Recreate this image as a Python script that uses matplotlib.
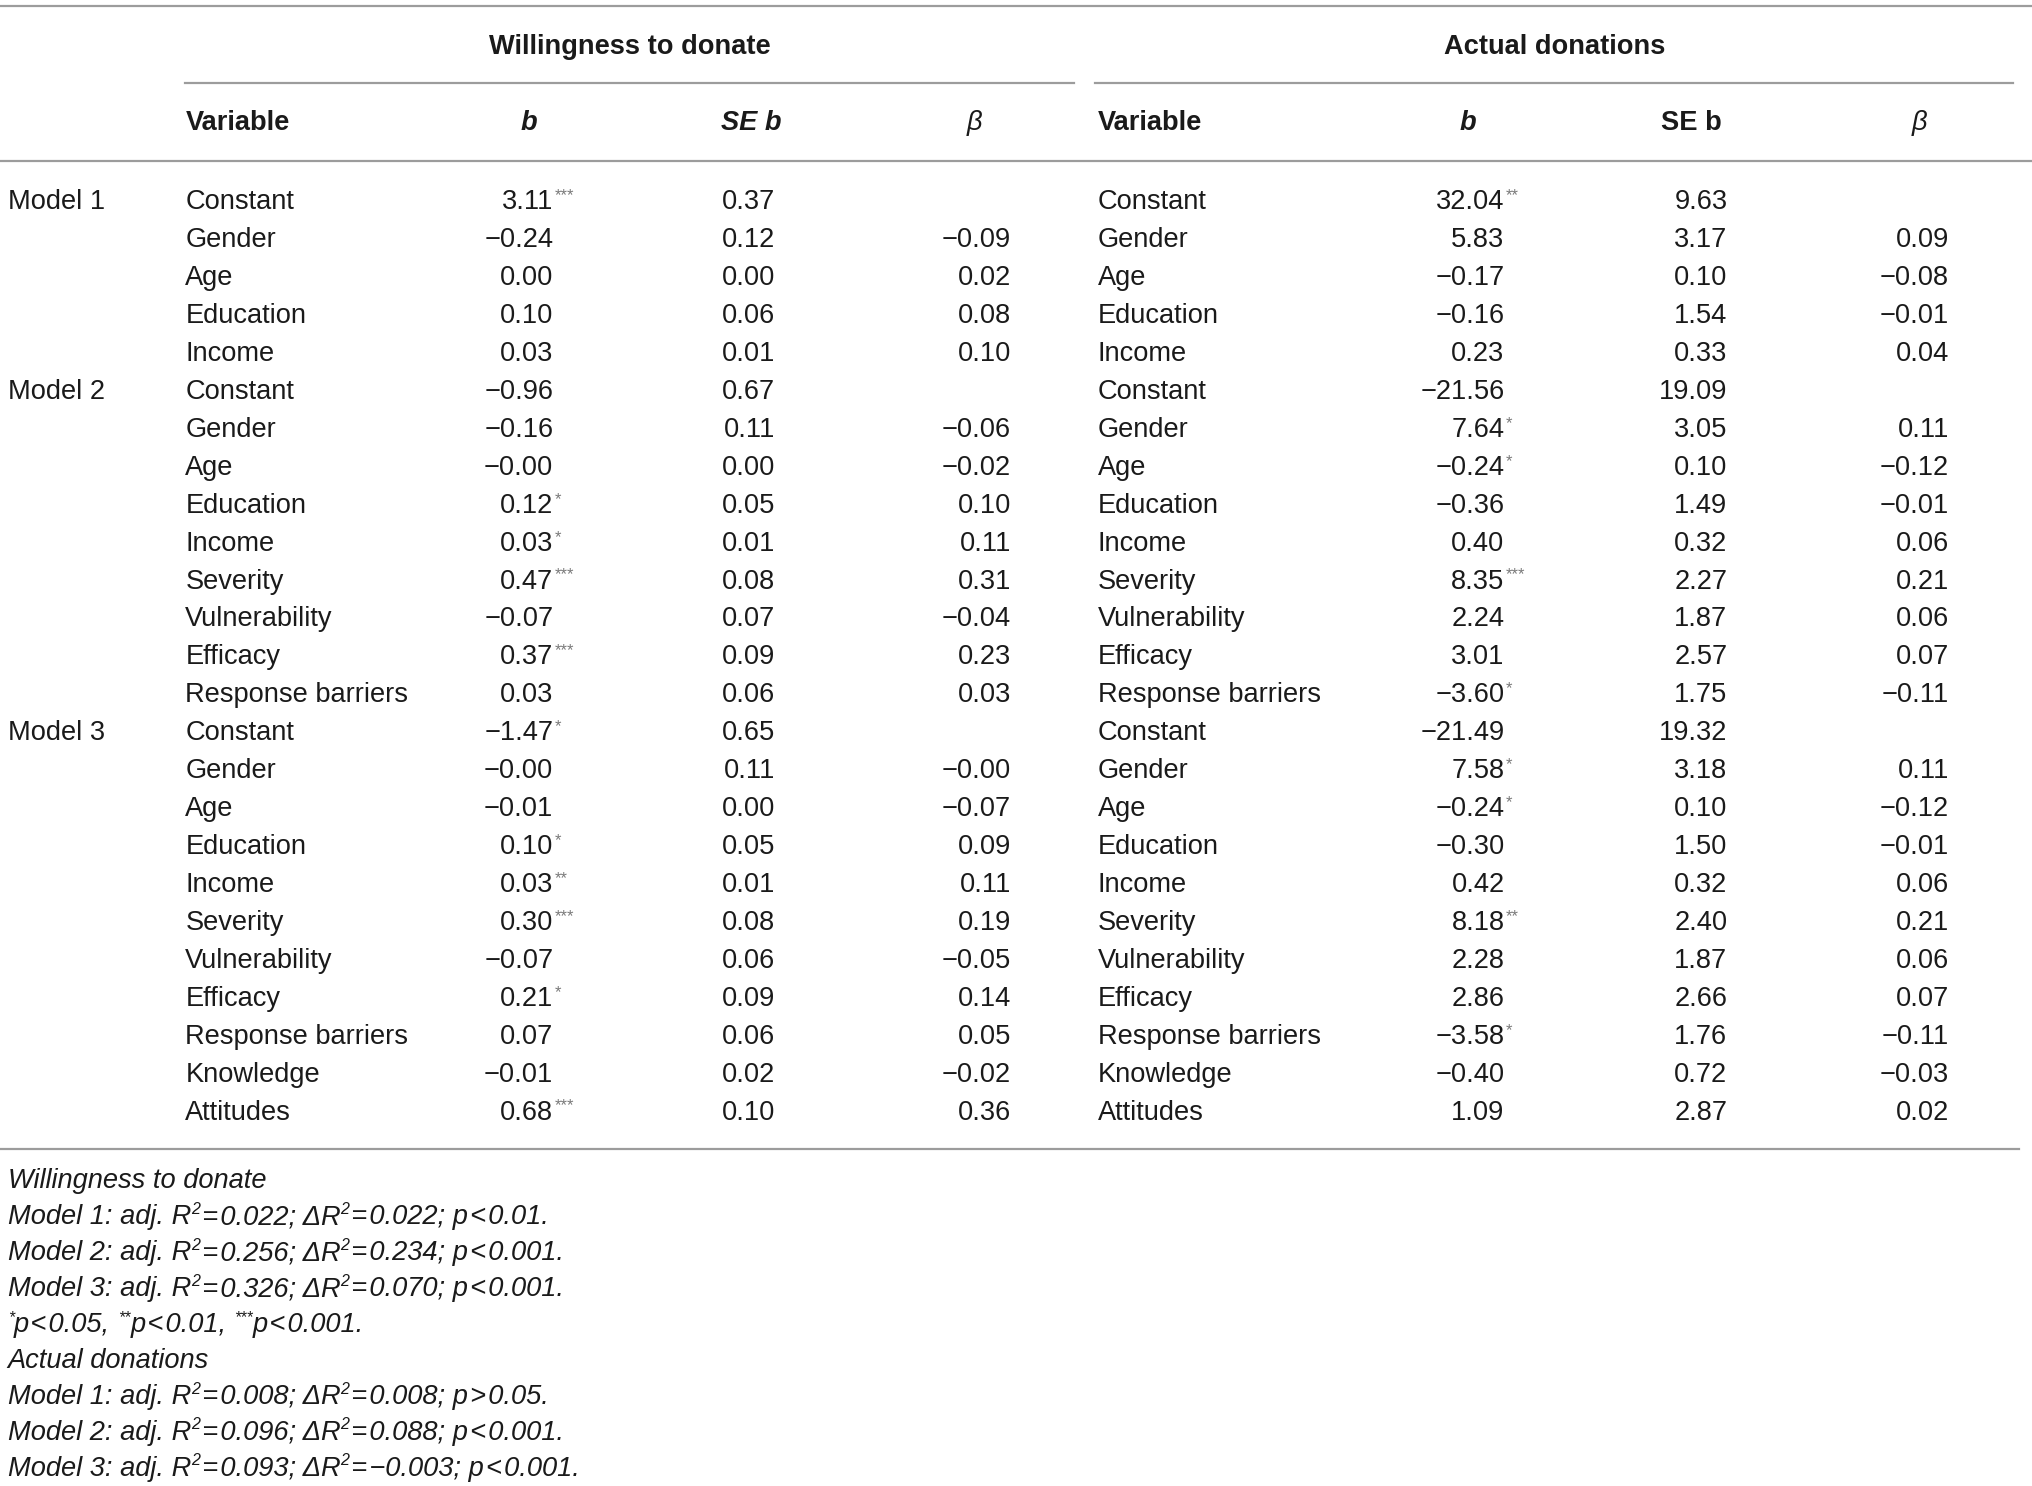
import matplotlib
matplotlib.use("Agg")
import matplotlib.pyplot as plt
from matplotlib.lines import Line2D

# ---------------- data ----------------
group_titles = ["Willingness to donate", "Actual donations"]
model_labels = ["Model 1", "Model 2", "Model 3"]
vars_m1 = ["Constant", "Gender", "Age", "Education", "Income"]
vars_m2 = ["Constant", "Gender", "Age", "Education", "Income", "Severity",
           "Vulnerability", "Efficacy", "Response barriers"]
vars_m3 = ["Constant", "Gender", "Age", "Education", "Income", "Severity",
           "Vulnerability", "Efficacy", "Response barriers", "Knowledge", "Attitudes"]

wtd_b = ["3.11", "−0.24", "0.00", "0.10", "0.03",
         "−0.96", "−0.16", "−0.00", "0.12", "0.03", "0.47", "−0.07", "0.37", "0.03",
         "−1.47", "−0.00", "−0.01", "0.10", "0.03", "0.30", "−0.07", "0.21", "0.07", "−0.01", "0.68"]
wtd_sig = ["***", "", "", "", "",
           "", "", "", "*", "*", "***", "", "***", "",
           "*", "", "", "*", "**", "***", "", "*", "", "", "***"]
wtd_se = ["0.37", "0.12", "0.00", "0.06", "0.01",
          "0.67", "0.11", "0.00", "0.05", "0.01", "0.08", "0.07", "0.09", "0.06",
          "0.65", "0.11", "0.00", "0.05", "0.01", "0.08", "0.06", "0.09", "0.06", "0.02", "0.10"]
wtd_beta = ["", "−0.09", "0.02", "0.08", "0.10",
            "", "−0.06", "−0.02", "0.10", "0.11", "0.31", "−0.04", "0.23", "0.03",
            "", "−0.00", "−0.07", "0.09", "0.11", "0.19", "−0.05", "0.14", "0.05", "−0.02", "0.36"]

act_b = ["32.04", "5.83", "−0.17", "−0.16", "0.23",
         "−21.56", "7.64", "−0.24", "−0.36", "0.40", "8.35", "2.24", "3.01", "−3.60",
         "−21.49", "7.58", "−0.24", "−0.30", "0.42", "8.18", "2.28", "2.86", "−3.58", "−0.40", "1.09"]
act_sig = ["**", "", "", "", "",
           "", "*", "*", "", "", "***", "", "", "*",
           "", "*", "*", "", "", "**", "", "", "*", "", ""]
act_se = ["9.63", "3.17", "0.10", "1.54", "0.33",
          "19.09", "3.05", "0.10", "1.49", "0.32", "2.27", "1.87", "2.57", "1.75",
          "19.32", "3.18", "0.10", "1.50", "0.32", "2.40", "1.87", "2.66", "1.76", "0.72", "2.87"]
act_beta = ["", "0.09", "−0.08", "−0.01", "0.04",
            "", "0.11", "−0.12", "−0.01", "0.06", "0.21", "0.06", "0.07", "−0.11",
            "", "0.11", "−0.12", "−0.01", "0.06", "0.21", "0.06", "0.07", "−0.11", "−0.03", "0.02"]

# notes: list of segments (text, superscript?)
HS = "\u200a"
notes = [
    [("Willingness to donate", False)],
    [("Model 1: adj. R", False), ("2", True), (f"{HS}={HS}0.022; ΔR", False), ("2", True),
     (f"{HS}={HS}0.022; p{HS}<{HS}0.01.", False)],
    [("Model 2: adj. R", False), ("2", True), (f"{HS}={HS}0.256; ΔR", False), ("2", True),
     (f"{HS}={HS}0.234; p{HS}<{HS}0.001.", False)],
    [("Model 3: adj. R", False), ("2", True), (f"{HS}={HS}0.326; ΔR", False), ("2", True),
     (f"{HS}={HS}0.070; p{HS}<{HS}0.001.", False)],
    [("*", True), (f"p{HS}<{HS}0.05, ", False), ("**", True), (f"p{HS}<{HS}0.01, ", False),
     ("***", True), (f"p{HS}<{HS}0.001.", False)],
    [("Actual donations", False)],
    [("Model 1: adj. R", False), ("2", True), (f"{HS}={HS}0.008; ΔR", False), ("2", True),
     (f"{HS}={HS}0.008; p{HS}>{HS}0.05.", False)],
    [("Model 2: adj. R", False), ("2", True), (f"{HS}={HS}0.096; ΔR", False), ("2", True),
     (f"{HS}={HS}0.088; p{HS}<{HS}0.001.", False)],
    [("Model 3: adj. R", False), ("2", True), (f"{HS}={HS}0.093; ΔR", False), ("2", True),
     (f"{HS}={HS}−0.003; p{HS}<{HS}0.001.", False)],
]

# ---------------- layout ----------------
W, H = 1568.0, 1146.0          # design coordinate space
fig = plt.figure(figsize=(20.32, 14.86), dpi=100)
fig.patch.set_facecolor("white")
plt.rcParams['font.family'] = ['Liberation Sans', 'DejaVu Sans']
FS = 19.6
TXT = "#1a1a1a"
LINEC = "#9c9c9c"


def fx(x):
    return x / W


def fy(y):
    return 1 - y / H


def T(x, y, s, ha="left", **kw):
    kw.setdefault("fontsize", FS)
    kw.setdefault("color", TXT)
    return fig.text(fx(x), fy(y), s, ha=ha, va="center", **kw)


def HL(x0, x1, y):
    fig.add_artist(Line2D([fx(x0), fx(x1)], [fy(y), fy(y)], transform=fig.transFigure,
                          color=LINEC, lw=1.6))


def stars(x, y, s):
    if s:
        T(x + 1, y - 5, s, fontsize=12, color="#7a7a7a")


# rules
HL(0, 1568, 5)
HL(143, 829, 64)
HL(845, 1553, 64)
HL(0, 1568, 124)
HL(0, 1558, 886)

# group headings
T(486, 36, group_titles[0], ha="center", fontweight="bold")
T(1200, 36, group_titles[1], ha="center", fontweight="bold")

# column headings
T(143, 95, "Variable", fontweight="bold")
T(408, 95, "b", ha="center", fontweight="bold", style="italic")
T(580, 95, "SE b", ha="center", fontweight="bold", style="italic")
T(752, 95, "β", ha="center", style="italic")
T(847, 95, "Variable", fontweight="bold")
T(1133, 95, "b", ha="center", fontweight="bold", style="italic")
T(1305, 95, "SE b", ha="center", fontweight="bold")
T(1481, 95, "β", ha="center", style="italic")

# body
all_vars = vars_m1 + vars_m2 + vars_m3
starts = [0, len(vars_m1), len(vars_m1) + len(vars_m2)]
row0, dy = 156.0, 29.25
for m, st in zip(model_labels, starts):
    T(6, row0 + st * dy, m)

for i, v in enumerate(all_vars):
    y = row0 + i * dy
    T(143, y, v)
    T(847, y, v)
    T(427, y, wtd_b[i], ha="right")
    stars(427, y, wtd_sig[i])
    T(598, y, wtd_se[i], ha="right")
    if wtd_beta[i]:
        T(780, y, wtd_beta[i], ha="right")
    T(1161, y, act_b[i], ha="right")
    stars(1161, y, act_sig[i])
    T(1333, y, act_se[i], ha="right")
    if act_beta[i]:
        T(1504, y, act_beta[i], ha="right")

# notes
fig.canvas.draw()
renderer = fig.canvas.get_renderer()
scale = fig.bbox.width / W
ny0, ndy = 911.0, 27.7
for k, segs in enumerate(notes):
    y = ny0 + k * ndy
    x = 6.0
    for s, sup in segs:
        if sup:
            t = T(x, y - 6, s, fontsize=11.5, style="italic")
        else:
            t = T(x, y, s, style="italic")
        w = t.get_window_extent(renderer).width / scale
        x += w

fig.savefig("out.png", dpi=100, facecolor="white")
